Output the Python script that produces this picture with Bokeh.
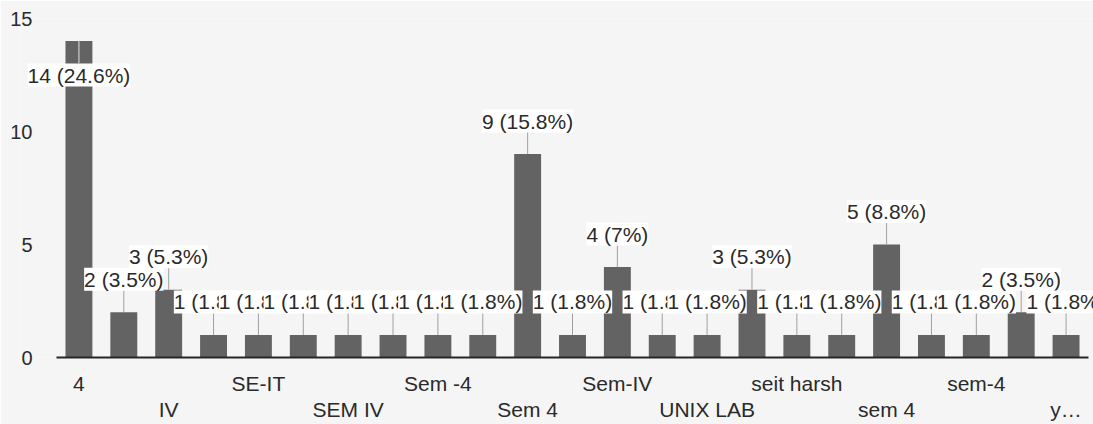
from bokeh.plotting import figure
from bokeh.models import ColumnDataSource, FixedTicker, LinearAxis, Range1d, Label
from bokeh.embed import file_html
from bokeh.resources import INLINE

# ---- data ----
categories = ["4", "", "IV", "", "SE-IT", "", "SEM IV", "", "Sem -4", "",
              "Sem 4", "", "Sem-IV", "", "UNIX LAB", "", "seit harsh", "",
              "sem 4", "", "sem-4", "", "y…"]
counts = [14, 2, 3, 1, 1, 1, 1, 1, 1, 1, 9, 1, 4, 1, 1, 3, 1, 1, 5, 1, 1, 2, 1]
y_ticks = [0, 5, 10, 15]

# ---- derived ----
total = sum(counts)
n = len(counts)


def fmt(c):
    pct = f"{round(c / total * 100, 1):.1f}".rstrip("0").rstrip(".")
    return f"{c} ({pct}%)"


labels = [fmt(c) for c in counts]
xs = list(range(n))

# ---- layout ----
W, H = 1093, 424
BL, BR, BT, BB = 20, 0, 18, 67          # frame spans wide so value labels are not clipped
CAT_L, CAT_R = 36, W - BL - BR - 5      # where the category band starts/ends inside the frame
frame_w = W - BL - BR
frame_h = H - BT - BB
unit = (CAT_R - CAT_L) / n
x_start = -0.5 - CAT_L / unit
x_end = n - 0.5 + (frame_w - CAT_R) / unit
ymax = y_ticks[-1]
ppu = frame_h / ymax
ABOVE = 33
LEADER = 22
inside = [c * ppu + ABOVE + 13 > frame_h for c in counts]
label_off = [-(ABOVE + 1) if f else ABOVE for f in inside]   # Label y_offset: + is up
leader_end = [c - LEADER / ppu if f else c + LEADER / ppu for c, f in zip(counts, inside)]
leader_col = ["#e4e4e4" if f else "#a0a0a0" for f in inside]

src = ColumnDataSource(dict(x=xs, c=counts, le=leader_end, lc=leader_col))

BG = "#f5f5f5"

p = figure(width=W, height=H,
           x_range=Range1d(x_start, x_end), y_range=Range1d(0, ymax),
           output_backend="svg", toolbar_location=None,
           x_axis_location=None,
           min_border_left=BL, min_border_right=BR,
           min_border_top=BT, min_border_bottom=BB)
p.background_fill_color = BG
p.border_fill_color = BG
p.outline_line_color = None
p.grid.grid_line_color = None

p.vbar(x="x", top="c", width=0.6, fill_color="#636363", line_color=None, source=src)
p.segment(x0="x", y0="c", x1="x", y1="le", line_color="lc", line_width=1, source=src)

# value labels, drawn left to right so each one covers the previous
for xi, ci, lab, off in zip(xs, counts, labels, label_off):
    p.add_layout(Label(x=xi, y=ci, text=lab, y_offset=off,
                       text_align="center", text_baseline="middle",
                       text_font="Liberation Sans", text_font_size="21px",
                       text_color="#2a2a2a", background_fill_color="white"))

# y axis (labels pulled into the wide frame's left margin)
ya = p.yaxis[0]
ya.ticker = FixedTicker(ticks=y_ticks)
ya.axis_line_color = None
ya.major_tick_line_color = None
ya.minor_tick_line_color = None
ya.major_tick_in = 0
ya.major_tick_out = 0
ya.major_label_standoff = -(CAT_L - 24)
ya.major_label_text_font = "Liberation Sans"
ya.major_label_text_font_size = "20px"
ya.major_label_text_color = "#2a2a2a"

# x axes: two staggered rows of category labels
shown = [i for i, c in enumerate(categories) if c]
top_row = shown[0::2]
bottom_row = shown[1::2]


def make_axis(ticks, standoff, line):
    ax = LinearAxis(ticker=FixedTicker(ticks=ticks),
                    major_label_overrides={i: categories[i] for i in ticks})
    ax.major_tick_line_color = None
    ax.minor_tick_line_color = None
    ax.major_tick_in = 0
    ax.major_tick_out = 0
    ax.major_label_standoff = standoff
    ax.major_label_text_font = "Liberation Sans"
    ax.major_label_text_font_size = "21px"
    ax.major_label_text_color = "#2a2a2a"
    if line:
        ax.axis_line_color = "#262626"
        ax.axis_line_width = 2
        ax.bounds = (-0.5, n - 0.5)
    else:
        ax.axis_line_color = None
    return ax


p.add_layout(make_axis(top_row, 14, True), "below")
p.add_layout(make_axis(bottom_row, 0, False), "below")

open("out.html", "w").write(file_html(p, INLINE))
